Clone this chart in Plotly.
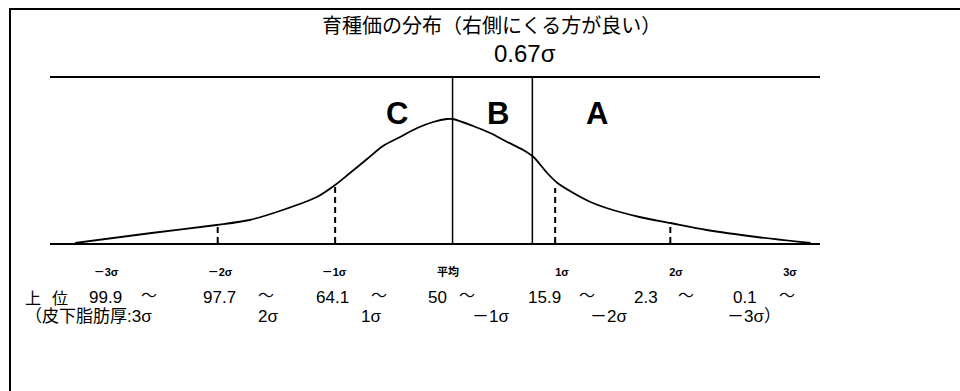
import plotly.graph_objects as go

# curve: x in sigma units, height in relative units
curve_sigma = [-3.27, -2.6, -2.03, -1.74, -1.45, -1.15, -0.99, -0.86, -0.71, -0.57,
               -0.42, -0.27, -0.13, -0.01, 0.04, 0.22, 0.37, 0.52, 0.66, 0.75,
               0.87, 0.96, 1.10, 1.25, 1.39, 1.68, 1.95, 2.27, 2.71, 3.18]
curve_height = [0, 10, 18, 23, 33, 46, 58, 70, 84, 97,
                106, 115, 121, 124, 124, 117, 110, 101, 93, 86,
                70, 60, 50, 41, 35, 26, 20, 13, 6, 0]

dashed_sigma = [-2.02, -0.99, 0.94, 1.95]
dashed_height = [18, 56, 55, 18]

divider_sigma = [0.04, 0.74]   # mean and 0.67 sigma cut
top_height = 165

tick_vals = [-3, -2, -1, 0, 1, 2, 3]
tick_text = ["－3σ", "－2σ", "－1σ", "平均", "1σ", "2σ", "3σ"]

group_labels = ["C", "B", "A"]
group_sigma = [-0.45, 0.44, 1.31]

rank_pct = ["99.9", "97.7", "64.1", "50", "15.9", "2.3", "0.1"]
fat_sigma = ["（皮下脂肪厚:3σ", "2σ", "1σ", "－1σ", "－2σ", "－3σ）"]

# layout helpers (pixel -> paper)
L, R, T, B = 50, 140, 78, 148
W, H = 960, 391
PW, PH = W - L - R, H - T - B


def xp(px):
    return (px - L) / PW


def yp(py):
    return (H - B - py) / PH


FONT = "Liberation Sans, Noto Sans CJK JP"
JP = "Noto Sans CJK JP, Liberation Sans"


def label(px, py, text, family, size, xanchor="left", **kw):
    return dict(x=xp(px), y=yp(py), xref="paper", yref="paper", text=text,
                showarrow=False, xanchor=xanchor, yanchor="middle",
                font=dict(family=family, size=size, color="black", **kw))


fig = go.Figure()
fig.add_trace(go.Scatter(
    x=curve_sigma, y=curve_height, mode="lines",
    line=dict(color="black", width=1.8, shape="spline", smoothing=0.8),
    hoverinfo="skip",
))
for s, h in zip(dashed_sigma, dashed_height):
    fig.add_trace(go.Scatter(
        x=[s, s], y=[0, h], mode="lines",
        line=dict(color="black", width=2, dash="6px,4px"), hoverinfo="skip",
    ))
for s in divider_sigma:
    fig.add_trace(go.Scatter(
        x=[s, s], y=[0, top_height], mode="lines",
        line=dict(color="black", width=1.5), hoverinfo="skip",
    ))

ann = []
ann.append(label(491, 25, "育種価の分布（右側にくる方が良い）", JP, 20, "center"))
ann.append(label(525, 54, "0.67σ", FONT, 24, "center"))
for lab, s in zip(group_labels, group_sigma):
    ann.append(dict(x=s, y=130, xref="x", yref="y", text=lab, showarrow=False,
                    font=dict(family="Liberation Sans", size=31, color="black",
                              weight="bold")))

row1_y, row2_y = 297, 316
row1_left = [87, 201, 314, 426, 526, 632, 731]
tilde_left = [139, 256, 369, 457, 577, 676, 777]
ann.append(label(23, row1_y, "上", JP, 16))
ann.append(label(50, row1_y, "位", JP, 16))
for t, px, tx in zip(rank_pct, row1_left, tilde_left):
    ann.append(label(px, row1_y, t, FONT, 17))
    ann.append(label(tx, row1_y - 3, "～", JP, 16))
row2_left = [23, 256, 359, 470, 588, 725]
for t, px in zip(fat_sigma, row2_left):
    ann.append(label(px, row2_y, t, FONT, 17))

# page frame (left and top edge)
shapes = [
    dict(type="line", xref="paper", yref="paper", x0=xp(10), x1=xp(10),
         y0=yp(8), y1=yp(391), line=dict(color="black", width=2)),
    dict(type="line", xref="paper", yref="paper", x0=xp(10), x1=xp(960),
         y0=yp(9), y1=yp(9), line=dict(color="black", width=2)),
]

fig.update_layout(
    width=W, height=H,
    margin=dict(l=L, r=R, t=T, b=B),
    paper_bgcolor="white", plot_bgcolor="white",
    showlegend=False,
    annotations=ann, shapes=shapes,
    xaxis=dict(range=[-3.491, 3.263], showgrid=False, zeroline=False,
               showline=True, mirror=True, linecolor="black", linewidth=2,
               tickvals=tick_vals, ticktext=tick_text, ticks="",
               ticklabelstandoff=18,
               tickfont=dict(family=FONT, size=11, color="black", weight="bold")),
    yaxis=dict(range=[0, top_height], visible=False),
)

fig.write_html("out.html", config={"displayModeBar": False},
               post_script="document.body.style.margin='0';")
